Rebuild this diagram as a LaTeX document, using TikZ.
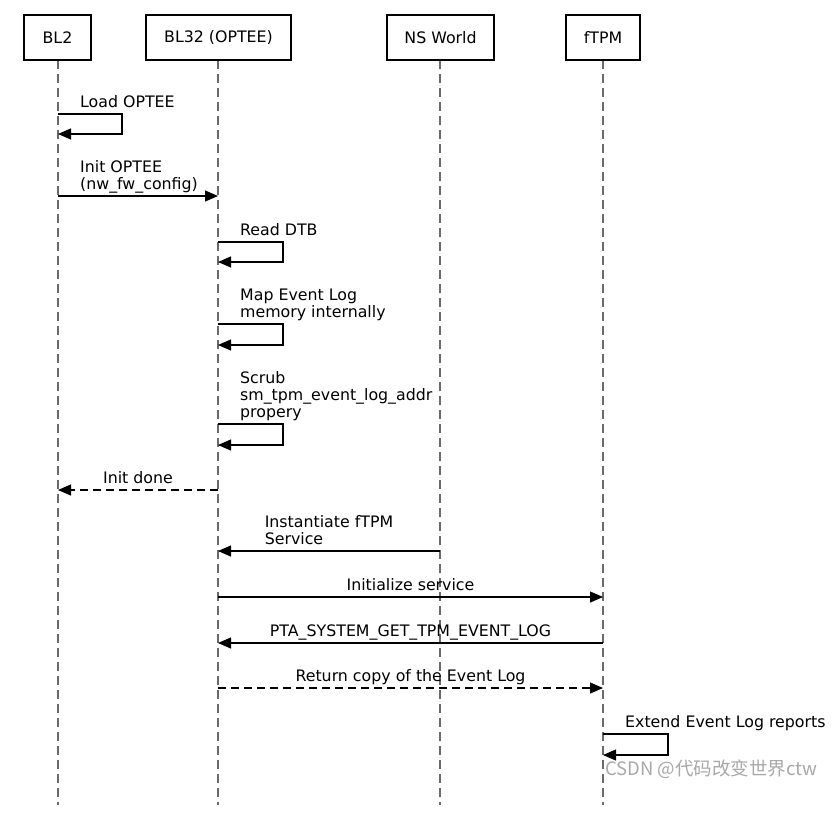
\documentclass[tikz,border=0pt]{standalone}
\usepackage{fontspec}
\setmainfont{DejaVu Sans}
\newfontfamily\cjkfont{Noto Sans CJK SC}
\usetikzlibrary{arrows.meta}
\definecolor{lifegray}{HTML}{6A6A6A}
\definecolor{wmgray}{HTML}{A8A8A8}
\begin{document}
\begin{tikzpicture}[x=1pt,y=-1pt,
  every node/.style={font=\fontsize{15.8}{17}\selectfont, inner sep=0pt},
  actor/.style={draw=black, line width=2pt, fill=white, minimum height=45pt},
  lifeline/.style={draw=lifegray, line width=1.8pt, dash pattern=on 9pt off 5pt},
  msg/.style={draw=black, line width=1.1pt, -{Triangle[length=13pt,width=11pt]}},
  retmsg/.style={msg, dash pattern=on 8pt off 5pt},
  lbl/.style={anchor=south west, align=left, text depth=0pt},
  clbl/.style={anchor=south, align=left, text depth=0pt}]
\useasboundingbox (0,0) rectangle (834,815);
% lifeline ends
\coordinate (bl2end) at (58,805);
\coordinate (bl32end) at (218,805);
\coordinate (nsend) at (440,805);
\coordinate (ftpmend) at (603,805);
% lifelines
\draw[lifeline] (58,60) -- (bl2end);
\draw[lifeline] (218,60) -- (bl32end);
\draw[lifeline] (440,60) -- (nsend);
\draw[lifeline] (603,60) -- (ftpmend);
% actors
\node[actor, minimum width=67pt] (bl2) at (57.5,37.5) {BL2};
\node[actor, minimum width=145pt] (bl32) at (218.5,37.5) {BL32 (OPTEE)};
\node[actor, minimum width=107pt] (ns) at (440.5,37.5) {NS World};
\node[actor, minimum width=74pt] (ftpm) at (603,37.5) {fTPM};
% 1 Load OPTEE (self)
\coordinate (a1) at (58,114); \coordinate (a1r) at (122,114);
\coordinate (a1s) at (122,134); \coordinate (a1e) at (58,134);
\draw[msg] (a1) -- (a1r) -- (a1s) -- (a1e);
\node[lbl] (t1) at (80,107.5) {Load OPTEE};
% 2 Init OPTEE
\coordinate (a2) at (58,196); \coordinate (a2e) at (218,196);
\draw[msg] (a2) -- (a2e);
\node[lbl] (t2) at (80,189.5) {Init OPTEE\\(nw\_fw\_config)};
% 3 Read DTB
\coordinate (a3) at (218,242); \coordinate (a3r) at (283,242);
\coordinate (a3s) at (283,262); \coordinate (a3e) at (218,262);
\draw[msg] (a3) -- (a3r) -- (a3s) -- (a3e);
\node[lbl] (t3) at (240,235.5) {Read DTB};
% 4 Map Event Log
\coordinate (a4) at (218,324); \coordinate (a4r) at (283,324);
\coordinate (a4s) at (283,345); \coordinate (a4e) at (218,345);
\draw[msg] (a4) -- (a4r) -- (a4s) -- (a4e);
\node[lbl] (t4) at (240,317.5) {Map Event Log\\memory internally};
% 5 Scrub
\coordinate (a5) at (218,424); \coordinate (a5r) at (283,424);
\coordinate (a5s) at (283,445); \coordinate (a5e) at (218,445);
\draw[msg] (a5) -- (a5r) -- (a5s) -- (a5e);
\node[lbl] (t5) at (240,417.5) {Scrub\\sm\_tpm\_event\_log\_addr\\propery};
% 6 Init done
\coordinate (a6) at (218,490); \coordinate (a6e) at (58,490);
\draw[retmsg] (a6) -- (a6e);
\node[clbl] (t6) at (138,483.5) {Init done};
% 7 Instantiate fTPM Service
\coordinate (a7) at (440,551); \coordinate (a7e) at (218,551);
\draw[msg] (a7) -- (a7e);
\node[clbl] (t7) at (329,544.5) {Instantiate fTPM\\Service};
% 8 Initialize service
\coordinate (a8) at (218,597); \coordinate (a8e) at (603,597);
\draw[msg] (a8) -- (a8e);
\node[clbl] (t8) at (410.5,590.5) {Initialize service};
% 9 PTA
\coordinate (a9) at (603,643); \coordinate (a9e) at (218,643);
\draw[msg] (a9) -- (a9e);
\node[clbl] (t9) at (410.5,636.5) {PTA\_SYSTEM\_GET\_TPM\_EVENT\_LOG};
% 10 Return copy
\coordinate (a10) at (218,688); \coordinate (a10e) at (603,688);
\draw[retmsg] (a10) -- (a10e);
\node[clbl] (t10) at (410.5,681.5) {Return copy of the Event Log};
% 11 Extend (self)
\coordinate (a11) at (603,734); \coordinate (a11r) at (668,734);
\coordinate (a11s) at (668,755); \coordinate (a11e) at (603,755);
\draw[msg] (a11) -- (a11r) -- (a11s) -- (a11e);
\node[lbl] (t11) at (625,727.5) {Extend Event Log reports};
% watermark
\node[anchor=west, text=wmgray, font=\cjkfont\fontsize{18.5}{20}\selectfont] (wm) at (605,769.5) {CSDN @代码改变世界ctw};
\end{tikzpicture}
\end{document}
